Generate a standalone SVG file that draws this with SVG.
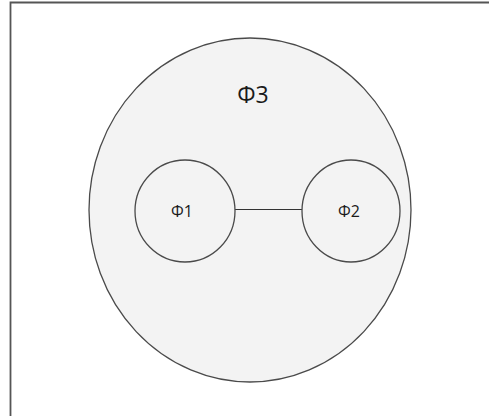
<svg xmlns="http://www.w3.org/2000/svg" width="489" height="416" viewBox="0 0 489 416">
<style>
.node{fill:#f3f3f3;stroke:#4a4a4a;stroke-width:1.3}
.lbl{font-family:"Open Sans","Liberation Sans",sans-serif;fill:#1a1a1a;text-anchor:middle}
.edge{stroke:#333;stroke-width:1.1;fill:none}
</style>
<rect width="489" height="416" fill="#fff"/>
<path d="M10.5 416 V2.5 H489" fill="none" stroke="#555" stroke-width="1.8"/>
<g id="phi3">
<ellipse class="node" cx="250" cy="210" rx="161" ry="172"/>
<text class="lbl" x="253" y="103" font-size="23">Φ3</text>
</g>
<g id="connectors">
<line class="edge" x1="235" y1="209.5" x2="302" y2="209.5"/>
</g>
<g id="phi1">
<ellipse class="node" cx="185" cy="211" rx="50" ry="51"/>
<text class="lbl" x="182" y="217" font-size="16">Φ1</text>
</g>
<g id="phi2">
<ellipse class="node" cx="351" cy="211" rx="49" ry="51"/>
<text class="lbl" x="349" y="217" font-size="16">Φ2</text>
</g>
</svg>
